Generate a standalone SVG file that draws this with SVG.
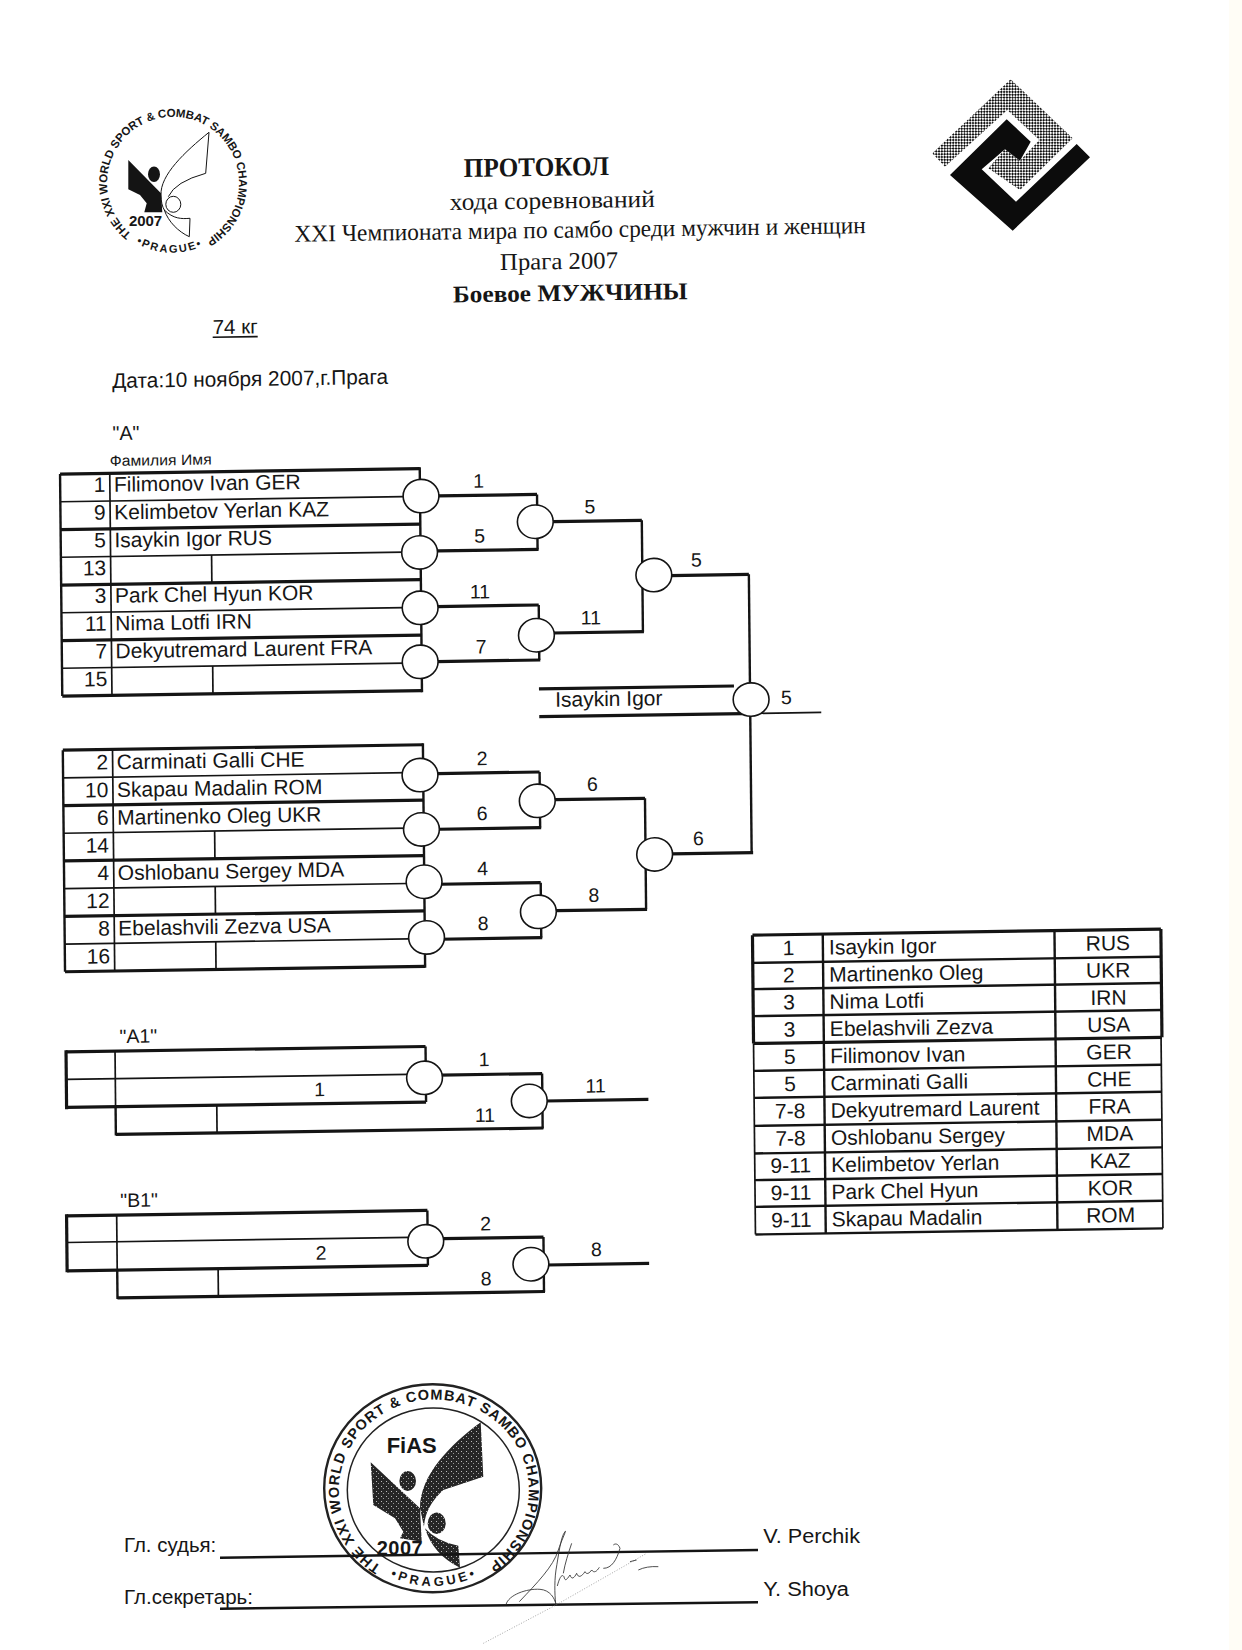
<svg xmlns="http://www.w3.org/2000/svg" width="1242" height="1650" viewBox="0 0 1242 1650">
<style>
text{font-family:"Liberation Sans",Arial,sans-serif;fill:#161616}
.serif{font-family:"Liberation Serif","Times New Roman",serif}
.b{font-weight:bold}
.n{font-size:21px}
.r{font-size:21px;text-anchor:end}
.l{font-size:19.5px;text-anchor:middle}
.c{font-size:21px;text-anchor:middle}
.s{font-size:20px}
line,path.w,polyline{stroke:#141414;fill:none}
.t{stroke-width:3.2}
.m{stroke-width:2.4}
.h{stroke-width:1.7}
.node{fill:#fff;stroke:#141414;stroke-width:1.6}
.ink{fill:#141414;stroke:none}
.sig{fill:none;stroke:#333;stroke-width:2.6}
.dot{fill:none;stroke:#777;stroke-width:2;stroke-dasharray:3 5}
.ring{font-weight:bold}
</style>
<defs>
<pattern id="chk" width="4" height="4" patternUnits="userSpaceOnUse" patternTransform="rotate(45)">
<rect width="4" height="4" fill="#fff"/><rect width="2" height="2" fill="#111"/><rect x="2" y="2" width="2" height="2" fill="#111"/>
</pattern>
<pattern id="mot" width="5" height="5" patternUnits="userSpaceOnUse">
<rect width="5" height="5" fill="#262626"/><rect x="1" y="1" width="1" height="1" fill="#bbb"/><rect x="3" y="3" width="1" height="1" fill="#999"/>
</pattern>
<ellipse id="o" rx="17.9" ry="16.7"/>
<path id="ring1" d="M131.4 234A66 66 0 1 1 206 240"/>
<path id="arc1" d="M136 243A71 71 0 0 0 204 245"/>
<path id="ring2" d="M381.3 1566.3A95 91 0 1 1 482 1569"/>
<path id="arc2" d="M390 1576.5A100 98 0 0 0 480 1574.5"/>
</defs>
<rect width="1242" height="1650" fill="#fff"/>
<rect x="1229" width="13" height="1650" fill="#fffdf6"/>

<g id="emblem-left">
<text class="ring" font-size="11.5" textLength="334"><textPath href="#ring1">THE XXI WORLD SPORT &amp; COMBAT SAMBO CHAMPIONSHIP</textPath></text>
<text class="ring" font-size="11" textLength="68"><textPath href="#arc1">•PRAGUE•</textPath></text>
<path class="ink" d="M128.3 160L161 193.3L162.3 212.3L144.3 212.3L146.7 203.3L140 195L128.3 189.3Z"/>
<ellipse class="ink" cx="154" cy="174.3" rx="6" ry="7.7"/>
<path d="M209 132.3C185 151.7 160 175 161 195C161 201.7 162.3 206.7 164.3 210C173.3 219 181.7 219 190 218.3L189.3 236.7C178.3 231.7 168.3 221.7 164.3 210M209 132.3L205.7 173.3Q175 181.7 168.3 196.7" fill="none" stroke="#141414" stroke-width="1"/>
<ellipse cx="173.3" cy="204.3" rx="7.5" ry="8" fill="none" stroke="#141414" stroke-width="1"/>
<text class="b" x="129" y="225.7" font-size="15" textLength="33">2007</text>
</g>

<g id="emblem-right">
<polygon fill="url(#chk)" points="932.3,153.3 1010.7,79.3 1072.7,138.3 1020,190 988.3,168.3 1005,149.3 1020,160.7 1039.3,140 1007.3,110 945,166.7"/>
<polygon fill="#0c0c0c" points="1006.7,119.3 1030.7,141.7 1020,160.7 1005,149.3 981.7,169.3 1016,201.7 1076.7,144 1090,157.3 1012.7,230.7 950,175"/>
</g>

<g id="page" transform="matrix(1 -0.015 0.01 1 0 0)">
<g id="header">
<text class="serif b" x="462" y="184" font-size="27" textLength="145.3" lengthAdjust="spacingAndGlyphs">ПРОТОКОЛ</text>
<text class="serif" x="447.7" y="216.6" font-size="24" textLength="205" lengthAdjust="spacingAndGlyphs">хода соревнований</text>
<text class="serif" x="292" y="246.1" font-size="24" textLength="571.4" lengthAdjust="spacingAndGlyphs">XXI Чемпионата мира по самбо среди мужчин и женщин</text>
<text class="serif" x="497.3" y="277.4" font-size="24" textLength="118" lengthAdjust="spacingAndGlyphs">Прага 2007</text>
<text class="serif b" x="450" y="309.3" font-size="24" textLength="234.6" lengthAdjust="spacingAndGlyphs">Боевое МУЖЧИНЫ</text>
<text x="209.3" y="337.2" font-size="20" textLength="45" lengthAdjust="spacingAndGlyphs">74 кг</text>
<line class="h" x1="209.3" y1="340.4" x2="254.3" y2="340.4"/>
<text x="108.3" y="389.7" font-size="21" textLength="276" lengthAdjust="spacingAndGlyphs">Дата:10 ноября 2007,г.Прага</text>
<text x="108.1" y="441.7" font-size="20" textLength="27" lengthAdjust="spacingAndGlyphs">"A"</text>
<text x="105" y="467.6" font-size="15" textLength="102" lengthAdjust="spacingAndGlyphs">Фамилия Имя</text>
</g>

<g id="table-a">
<line class="t" x1="55.3" y1="474.9" x2="415" y2="474.9"/>
<line class="h" x1="55.3" y1="502.6" x2="415" y2="502.6"/>
<line class="t" x1="55.3" y1="530.4" x2="415" y2="530.4"/>
<line class="h" x1="55.3" y1="558.1" x2="415" y2="558.1"/>
<line class="t" x1="55.3" y1="585.9" x2="415" y2="585.9"/>
<line class="h" x1="55.3" y1="613.6" x2="415" y2="613.6"/>
<line class="t" x1="55.3" y1="641.4" x2="415" y2="641.4"/>
<line class="h" x1="55.3" y1="669.1" x2="415" y2="669.1"/>
<line class="t" x1="55.3" y1="696.9" x2="415" y2="696.9"/>
<line class="m" x1="55.3" y1="474.9" x2="55.3" y2="696.9"/>
<line class="h" x1="105" y1="474.9" x2="105" y2="696.9"/>
<line class="m" x1="415" y1="473.4" x2="415" y2="698.4"/>
<line class="h" x1="206" y1="558.1" x2="206" y2="585.9"/>
<line class="h" x1="206" y1="669.1" x2="206" y2="696.9"/>
<text class="r" x="100.5" y="493.4">1</text><text class="n" x="109" y="493.4">Filimonov Ivan GER</text>
<text class="r" x="100.5" y="521.1">9</text><text class="n" x="109" y="521.1">Kelimbetov Yerlan KAZ</text>
<text class="r" x="100.5" y="548.9">5</text><text class="n" x="109" y="548.9">Isaykin Igor RUS</text>
<text class="r" x="100.5" y="576.6">13</text>
<text class="r" x="100.5" y="604.4">3</text><text class="n" x="109" y="604.4">Park Chel Hyun KOR</text>
<text class="r" x="100.5" y="632.1">11</text><text class="n" x="109" y="632.1">Nima Lotfi IRN</text>
<text class="r" x="100.5" y="659.9">7</text><text class="n" x="109" y="659.9">Dekyutremard Laurent FRA</text>
<text class="r" x="100.5" y="687.6">15</text>
</g>

<g id="table-b">
<line class="t" x1="55.3" y1="751" x2="415.4" y2="751"/>
<line class="h" x1="55.3" y1="778.7" x2="415.4" y2="778.7"/>
<line class="t" x1="55.3" y1="806.4" x2="415.4" y2="806.4"/>
<line class="h" x1="55.3" y1="834.1" x2="415.4" y2="834.1"/>
<line class="t" x1="55.3" y1="861.8" x2="415.4" y2="861.8"/>
<line class="h" x1="55.3" y1="889.5" x2="415.4" y2="889.5"/>
<line class="t" x1="55.3" y1="917.2" x2="415.4" y2="917.2"/>
<line class="h" x1="55.3" y1="944.9" x2="415.4" y2="944.9"/>
<line class="t" x1="55.3" y1="972.6" x2="415.4" y2="972.6"/>
<line class="m" x1="55.3" y1="751" x2="55.3" y2="972.6"/>
<line class="h" x1="105" y1="751" x2="105" y2="972.6"/>
<line class="m" x1="415.4" y1="749.5" x2="415.4" y2="974"/>
<line class="h" x1="206.3" y1="834.1" x2="206.3" y2="861.8"/>
<line class="h" x1="206.3" y1="889.5" x2="206.3" y2="917.2"/>
<line class="h" x1="206.3" y1="944.9" x2="206.3" y2="972.6"/>
<text class="r" x="100.5" y="770.9">2</text><text class="n" x="109" y="770.9">Carminati Galli CHE</text>
<text class="r" x="100.5" y="798.6">10</text><text class="n" x="109" y="798.6">Skapau Madalin ROM</text>
<text class="r" x="100.5" y="826.3">6</text><text class="n" x="109" y="826.3">Martinenko Oleg UKR</text>
<text class="r" x="100.5" y="854">14</text>
<text class="r" x="100.5" y="881.7">4</text><text class="n" x="109" y="881.7">Oshlobanu Sergey MDA</text>
<text class="r" x="100.5" y="909.4">12</text>
<text class="r" x="100.5" y="937.1">8</text><text class="n" x="109" y="937.1">Ebelashvili Zezva USA</text>
<text class="r" x="100.5" y="964.8">16</text>
</g>

<g id="table-a1">
<line class="t" x1="55.5" y1="1052.7" x2="415" y2="1052.7"/>
<line class="h" x1="55.5" y1="1080.3" x2="415" y2="1080.3"/>
<line class="t" x1="55.5" y1="1108.3" x2="415" y2="1108.3"/>
<line class="t" x1="55.5" y1="1051" x2="55.5" y2="1110"/>
<line class="h" x1="104.5" y1="1052.7" x2="104.5" y2="1108.3"/>
<line class="m" x1="104.5" y1="1108.3" x2="104.5" y2="1137"/>
<line class="t" x1="104.5" y1="1136" x2="532" y2="1136"/>
<line class="h" x1="205.7" y1="1108.3" x2="205.7" y2="1136"/>
<text class="l" x="128" y="1044.8">"A1"</text>
<text class="l" x="308.7" y="1100.8">1</text>
</g>

<g id="table-b1">
<line class="t" x1="54.4" y1="1216.7" x2="415.2" y2="1216.7"/>
<line class="h" x1="54.4" y1="1243.3" x2="415.2" y2="1243.3"/>
<line class="t" x1="54.4" y1="1271.7" x2="415.2" y2="1271.7"/>
<line class="t" x1="54.4" y1="1215" x2="54.4" y2="1273"/>
<line class="h" x1="104.5" y1="1216.7" x2="104.5" y2="1271.7"/>
<line class="m" x1="104.5" y1="1271.7" x2="104.5" y2="1300.5"/>
<line class="t" x1="104.5" y1="1299.5" x2="532" y2="1299.5"/>
<line class="h" x1="205.4" y1="1271.7" x2="205.4" y2="1299.5"/>
<text class="l" x="127" y="1208.8">"B1"</text>
<text class="l" x="308.6" y="1264.2">2</text>
</g>

<g id="connectors">
<polyline class="t" points="415,502.4 532,502.4"/><polyline class="m" points="532,502.4 532,557.4"/><polyline class="t" points="415,557.4 533,557.4"/>
<polyline class="t" points="415,613 532.6,613"/><polyline class="m" points="532.6,613 532.6,668"/><polyline class="t" points="415,668 533.6,668"/>
<polyline class="t" points="530,529.9 636.5,529.9"/><polyline class="m" points="636.5,529.9 636.5,641.2"/><polyline class="t" points="530,641.2 637.5,641.2"/>
<polyline class="t" points="648,585.5 743,585.5"/><polyline class="m" points="743,585.5 743,863.8"/>
<polyline class="t" points="415,780 531.8,780"/><polyline class="m" points="531.8,780 531.8,835.7"/><polyline class="t" points="415,835.7 532.8,835.7"/>
<polyline class="t" points="415,890.7 531.8,890.7"/><polyline class="m" points="531.8,890.7 531.8,945.7"/><polyline class="t" points="415,945.7 532.8,945.7"/>
<polyline class="t" points="529,807.9 636.9,807.9"/><polyline class="m" points="636.9,807.9 636.9,918.9"/><polyline class="t" points="529,918.9 637.9,918.9"/>
<polyline class="t" points="646,863.8 744.5,863.8"/>
<polyline class="t" points="532,696.9 727,696.9"/>
<polyline class="t" points="532,724.6 736,724.6"/><polyline class="h" points="736,724.6 814,724.6"/>
<polyline class="m" points="415,1052.7 415,1108.3"/>
<polyline class="t" points="414,1081.5 531.3,1081.5"/><polyline class="m" points="531.3,1081.5 531.3,1136.5"/><polyline class="t" points="518,1109 637.3,1109"/>
<polyline class="m" points="415.2,1216.7 415.2,1271.7"/>
<polyline class="t" points="414,1245 531,1245"/><polyline class="m" points="531,1245 531,1300"/><polyline class="t" points="518,1273 636.4,1273"/>
</g>

<g id="nodes-a" class="node">
<g id="m1"><use href="#o" x="416" y="502.3"/></g>
<g id="m2"><use href="#o" x="414" y="558.6"/></g>
<g id="m3"><use href="#o" x="414" y="614"/></g>
<g id="m4"><use href="#o" x="413.5" y="668"/></g>
<g id="m5"><use href="#o" x="530" y="529.7"/></g>
<g id="m6"><use href="#o" x="530" y="643.2"/></g>
<g id="m7"><use href="#o" x="648" y="584.8"/></g>
<g id="m-final"><use href="#o" x="744" y="710.7"/></g>
<g id="m8"><use href="#o" x="412.2" y="781.3"/></g>
<g id="m9"><use href="#o" x="413.1" y="835.6"/></g>
<g id="m10"><use href="#o" x="415.2" y="888"/></g>
<g id="m11"><use href="#o" x="417.1" y="943.7"/></g>
<g id="m12"><use href="#o" x="529.2" y="808.8"/></g>
<g id="m13"><use href="#o" x="529.2" y="919.8"/></g>
<g id="m14"><use href="#o" x="646" y="864.1"/></g>
<g id="m15"><use href="#o" x="413.7" y="1084"/></g>
<g id="m16"><use href="#o" x="518.2" y="1108.7"/></g>
<g id="m17"><use href="#o" x="413.3" y="1247.5"/></g>
<g id="m18"><use href="#o" x="518.2" y="1272"/></g>
</g>

<g id="labels">
<text class="l" x="473.7" y="494.9">1</text>
<text class="l" x="474.2" y="549.9">5</text>
<text class="l" x="474" y="605.5">11</text>
<text class="l" x="474.5" y="660.5">7</text>
<text class="l" x="584.7" y="522.2">5</text>
<text class="l" x="584.6" y="633.2">11</text>
<text class="l" x="690.7" y="577">5</text>
<text class="l" x="779.2" y="715.8">5</text>
<text class="n" x="548" y="715">Isaykin Igor</text>
<text class="l" x="474.4" y="772.2">2</text>
<text class="l" x="473.8" y="827.2">6</text>
<text class="l" x="473.9" y="882.2">4</text>
<text class="l" x="473.9" y="937.2">8</text>
<text class="l" x="584.4" y="799.6">6</text>
<text class="l" x="584.9" y="910.6">8</text>
<text class="l" x="690" y="855.5">6</text>
<text class="l" x="473.5" y="1073.3">1</text>
<text class="l" x="473.8" y="1129">11</text>
<text class="l" x="584.7" y="1101.3">11</text>
<text class="l" x="473.4" y="1237.4">2</text>
<text class="l" x="473.3" y="1292.4">8</text>
<text class="l" x="583.9" y="1265">8</text>
</g>

<g id="results">
<line class="t" x1="743" y1="946.3" x2="1151.4" y2="946.3"/>
<line class="m" x1="743" y1="974" x2="1151" y2="974"/>
<line class="m" x1="743" y1="1000.3" x2="1151" y2="1000.3"/>
<line class="m" x1="743" y1="1027.3" x2="1151" y2="1027.3"/>
<line class="t" x1="743" y1="1054.6" x2="1151.4" y2="1054.6"/>
<line class="m" x1="743" y1="1082" x2="1150.5" y2="1082"/>
<line class="m" x1="743" y1="1109" x2="1150.5" y2="1109"/>
<line class="m" x1="743" y1="1137" x2="1150.5" y2="1137"/>
<line class="m" x1="743" y1="1164.6" x2="1150.5" y2="1164.6"/>
<line class="m" x1="743" y1="1191.3" x2="1150.5" y2="1191.3"/>
<line class="m" x1="743" y1="1218" x2="1150.5" y2="1218"/>
<line class="m" x1="743" y1="1245.6" x2="1150.5" y2="1245.6"/>
<line class="t" x1="743" y1="946.3" x2="743" y2="1054.6"/>
<line class="t" x1="1151.4" y1="946.3" x2="1151.4" y2="1054.6"/>
<line class="h" x1="743" y1="1054.6" x2="743" y2="1245.6"/>
<line class="h" x1="1150.5" y1="1054.6" x2="1150.5" y2="1245.6"/>
<line class="m" x1="813.3" y1="946.3" x2="813.3" y2="1245.6"/>
<line class="m" x1="1045" y1="946.3" x2="1045" y2="1245.6"/>
<text class="c" x="779" y="966.8">1</text><text class="n" x="819.4" y="966.8">Isaykin Igor</text><text class="c" x="1098.3" y="966.8">RUS</text>
<text class="c" x="779" y="994">2</text><text class="n" x="819.4" y="994">Martinenko Oleg</text><text class="c" x="1098.3" y="994">UKR</text>
<text class="c" x="779" y="1021.2">3</text><text class="n" x="819.4" y="1021.2">Nima Lotfi</text><text class="c" x="1098.3" y="1021.2">IRN</text>
<text class="c" x="779" y="1048.4">3</text><text class="n" x="819.4" y="1048.4">Ebelashvili Zezva</text><text class="c" x="1098.3" y="1048.4">USA</text>
<text class="c" x="779" y="1075.6">5</text><text class="n" x="819.4" y="1075.6">Filimonov Ivan</text><text class="c" x="1098.3" y="1075.6">GER</text>
<text class="c" x="779" y="1102.8">5</text><text class="n" x="819.4" y="1102.8">Carminati Galli</text><text class="c" x="1098.3" y="1102.8">CHE</text>
<text class="c" x="779" y="1130">7-8</text><text class="n" x="819.4" y="1130">Dekyutremard Laurent</text><text class="c" x="1098.3" y="1130">FRA</text>
<text class="c" x="779" y="1157.2">7-8</text><text class="n" x="819.4" y="1157.2">Oshlobanu Sergey</text><text class="c" x="1098.3" y="1157.2">MDA</text>
<text class="c" x="779" y="1184.4">9-11</text><text class="n" x="819.4" y="1184.4">Kelimbetov Yerlan</text><text class="c" x="1098.3" y="1184.4">KAZ</text>
<text class="c" x="779" y="1211.6">9-11</text><text class="n" x="819.4" y="1211.6">Park Chel Hyun</text><text class="c" x="1098.3" y="1211.6">KOR</text>
<text class="c" x="779" y="1238.8">9-11</text><text class="n" x="819.4" y="1238.8">Skapau Madalin</text><text class="c" x="1098.3" y="1238.8">ROM</text>
</g>
</g>

<g id="stamp">
<ellipse cx="432.7" cy="1488.3" rx="108.5" ry="104" fill="none" stroke="#222" stroke-width="2.4"/>
<ellipse cx="433.3" cy="1490" rx="86" ry="82" fill="none" stroke="#222" stroke-width="1.5"/>
<text class="ring" font-size="14.5" textLength="470"><textPath href="#ring2">THE XXI WORLD SPORT &amp; COMBAT SAMBO CHAMPIONSHIP</textPath></text>
<text class="ring" font-size="13" textLength="88"><textPath href="#arc2">•PRAGUE•</textPath></text>
<text class="b" x="386.7" y="1453.3" font-size="22" textLength="50">FiAS</text>
<polygon fill="url(#mot)" points="370.7,1462.3 420,1508.3 421.7,1541.7 400,1538.3 403.3,1531.7 395,1518.3 373.3,1505"/>
<path fill="url(#mot)" d="M480.7 1422.3C450 1445 420 1475 420 1508.3L424 1526.7Q425 1506.7 443.3 1490L483.3 1476.7Z"/>
<path fill="url(#mot)" d="M425 1528.3Q436.7 1541.7 458.3 1545.7L460 1567.7Q433.3 1555 425 1528.3Z"/>
<ellipse fill="url(#mot)" cx="407.7" cy="1481" rx="8.3" ry="10"/>
<ellipse fill="url(#mot)" cx="436.7" cy="1523.3" rx="9" ry="10.7"/>
<text class="b" x="376.7" y="1555" font-size="20" textLength="46">2007</text>
</g>

<g id="signatures">
<line class="m" x1="220" y1="1557.7" x2="758" y2="1550"/>
<line class="m" x1="220" y1="1608.7" x2="758" y2="1602.3"/>
<text class="s" x="124" y="1551.7" textLength="92.3" lengthAdjust="spacingAndGlyphs">Гл. судья:</text>
<text class="s" x="124" y="1604" textLength="129" lengthAdjust="spacingAndGlyphs">Гл.секретарь:</text>
<text class="s" x="763.3" y="1542.7" textLength="96.7" lengthAdjust="spacingAndGlyphs">V. Perchik</text>
<text class="s" x="763.3" y="1596" textLength="85.7" lengthAdjust="spacingAndGlyphs">Y. Shoya</text>
<g transform="translate(470 1510) scale(.3333)">
<path class="sig" d="M148 275C200 220 250 170 265 120C275 90 292 55 285 65C272 80 265 140 258 180C252 220 255 270 258 285"/>
<path class="sig" d="M108 284C115 255 170 235 210 238C240 240 255 265 258 285"/>
<path class="sig" d="M262 228C268 205 275 190 282 200C285 215 290 210 300 195C305 210 312 205 320 190C325 205 335 200 345 185C350 195 358 190 365 180C372 190 380 185 388 172M305 100C295 130 285 160 280 190M400 175C425 175 440 150 450 115C445 100 435 100 430 105"/>
<path class="dot" d="M40 400L258 285L530 130"/>
<path class="sig" d="M505 180Q530 168 565 170M480 155L500 150"/>
</g>
</g>
</svg>
